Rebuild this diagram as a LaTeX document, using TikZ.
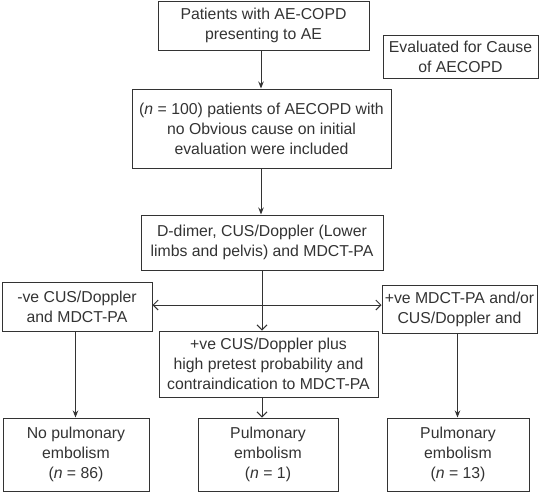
\documentclass[tikz,border=0pt]{standalone}
\usepackage{fontspec}
\setmainfont{Liberation Sans}
\usetikzlibrary{arrows.meta}
\definecolor{ink}{HTML}{333333}
\begin{document}
\begin{tikzpicture}[x=1pt,y=-1pt,
  box/.style={draw=ink,line width=1pt,text=ink,align=center,inner sep=0pt,font=\fontsize{15.8}{20}\selectfont},
  solidarr/.style={draw=ink,line width=1pt,-{Stealth[length=7pt,width=5.5pt]}},
  openarr/.style={draw=ink,line width=1pt,-{Straight Barb[length=5pt,width=10pt]}},
  dblarr/.style={draw=ink,line width=1pt,{Straight Barb[length=5pt,width=10pt]}-{Straight Barb[length=5pt,width=10pt]}}]
\useasboundingbox (0,0) rectangle (540,493);
\node[box,minimum width=211pt,minimum height=49pt] (b1) at (263.5,25.5) {Patients with AE-COPD\\presenting to AE};
\node[box,minimum width=155pt,minimum height=43pt] (ev) at (460.5,56.5) {Evaluated for Cause\\of AECOPD};
\node[box,minimum width=259pt,minimum height=79pt] (b2) at (261.5,128.5) {(\textit{n} = 100) patients of AECOPD with\\no Obvious cause on initial\\evaluation were included};
\node[box,minimum width=242pt,minimum height=55pt] (b3) at (262,242.5) {D-dimer, CUS/Doppler (Lower\\limbs and pelvis) and MDCT-PA};
\node[box,minimum width=150pt,minimum height=49pt] (lf) at (77,306.5) {-ve CUS/Doppler\\and MDCT-PA};
\node[box,minimum width=155pt,minimum height=48pt] (rt) at (459.5,309) {+ve MDCT-PA and/or\\CUS/Doppler and};
\node[box,minimum width=219pt,minimum height=66pt] (md) at (268.5,364) {+ve CUS/Doppler plus\\high pretest probability and\\contraindication to MDCT-PA};
\node[box,minimum width=146pt,minimum height=73pt] (bl) at (76,454.5) {No pulmonary\\embolism\\(\textit{n} = 86)};
\node[box,minimum width=140pt,minimum height=73pt] (bm) at (268,454.5) {Pulmonary\\embolism\\(\textit{n} = 1)};
\node[box,minimum width=142pt,minimum height=73pt] (br) at (458,454.5) {Pulmonary\\embolism\\(\textit{n} = 13)};
\coordinate (xa) at (261,0);
\coordinate (xm) at (262,0);
\coordinate (xl) at (75.5,0);
\coordinate (xr) at (457.5,0);
\coordinate (yd) at (0,305);
\draw[solidarr] (xa |- b1.south) -- (xa |- b2.north);
\draw[solidarr] (xa |- b2.south) -- (xa |- b3.north);
\draw[openarr] (xm |- b3.south) -- (xm |- md.north);
\draw[dblarr] (lf.east |- yd) -- (rt.west |- yd);
\draw[solidarr] (xl |- lf.south) -- (xl |- bl.north);
\draw[openarr] (xm |- md.south) -- (xm |- bm.north);
\draw[solidarr] (xr |- rt.south) -- (xr |- br.north);
\end{tikzpicture}
\end{document}
